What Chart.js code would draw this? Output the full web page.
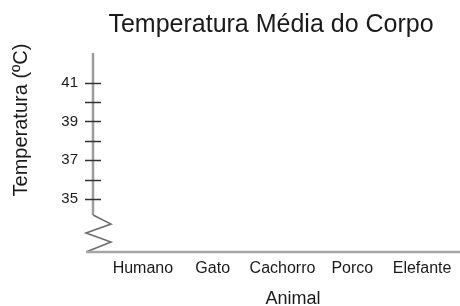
<!DOCTYPE html>
<html>
<head>
<meta charset="utf-8">
<script src="https://cdn.jsdelivr.net/npm/chart.js@4/dist/chart.umd.min.js"></script>
<style>
  html, body { margin: 0; padding: 0; background: #fff; }
  #wrap { width: 460px; height: 306px; }
</style>
</head>
<body>
<div id="wrap"><canvas id="tempChart" width="460" height="306"></canvas></div>
<script>
const titulo = "Temperatura Média do Corpo";
const tituloY = "Temperatura (ºC)";
const tituloX = "Animal";
const animais = ["Humano", "Gato", "Cachorro", "Porco", "Elefante"];
const temperaturas = [null, null, null, null, null]; // no bars drawn in the reference
const yTicks = [35, 36, 37, 38, 39, 40, 41];
const yTickLabels = [35, 37, 39, 41];

const FONT = "'Liberation Sans', Arial, sans-serif";

// axis lines, tick marks, zigzag break and the titles
const decorPlugin = {
  id: "decor",
  afterDraw(chart) {
    const { ctx, chartArea, scales } = chart;
    const y = scales.y;
    const axisX = chartArea.left - 15;
    const breakTop = y.getPixelForValue(35) + 16;
    const bottom = chartArea.bottom;

    ctx.save();
    // y axis line
    ctx.strokeStyle = "#9c9c9c";
    ctx.lineWidth = 2.5;
    ctx.beginPath();
    ctx.moveTo(axisX, chartArea.top);
    ctx.lineTo(axisX, breakTop);
    ctx.stroke();

    // zigzag
    ctx.strokeStyle = "#6e6e6e";
    ctx.lineWidth = 1.6;
    ctx.beginPath();
    ctx.moveTo(axisX, breakTop);
    ctx.lineTo(axisX + 18, breakTop + 9);
    ctx.lineTo(axisX - 7, breakTop + 18);
    ctx.lineTo(axisX + 18, breakTop + 27);
    ctx.lineTo(axisX - 7, bottom);
    ctx.stroke();

    // x axis line
    ctx.strokeStyle = "#a6a6a6";
    ctx.lineWidth = 2.5;
    ctx.beginPath();
    ctx.moveTo(axisX - 7, bottom);
    ctx.lineTo(chart.width, bottom);
    ctx.stroke();

    // tick marks across the y axis
    ctx.strokeStyle = "#333";
    ctx.lineWidth = 1.5;
    yTicks.forEach((v) => {
      const py = Math.round(y.getPixelForValue(v)) + 0.5;
      ctx.beginPath();
      ctx.moveTo(axisX - 8, py);
      ctx.lineTo(axisX + 8, py);
      ctx.stroke();
    });

    // titles
    ctx.fillStyle = "#1a1a1a";
    ctx.textBaseline = "alphabetic";
    ctx.textAlign = "center";
    ctx.font = "25px " + FONT;
    ctx.fillText(titulo, 271, 32);

    ctx.font = "18px " + FONT;
    ctx.fillText(tituloX, 293, 304);

    ctx.translate(27, 120);
    ctx.rotate(-Math.PI / 2);
    ctx.font = "20px " + FONT;
    ctx.fillText(tituloY, 0, 0);
    ctx.restore();
  },
};

new Chart(document.getElementById("tempChart"), {
  type: "bar",
  data: {
    labels: animais,
    datasets: [{ label: tituloY, data: temperaturas, backgroundColor: "#4472c4" }],
  },
  options: {
    responsive: false,
    animation: false,
    layout: { padding: { top: 53, right: 3, left: 0, bottom: 0 } },
    plugins: { legend: { display: false }, tooltip: { enabled: false }, title: { display: false } },
    scales: {
      x: {
        offset: true,
        border: { display: false },
        grid: { display: false, drawTicks: false },
        ticks: { color: "#1a1a1a", font: { family: FONT, size: 16 }, padding: 7, maxRotation: 0, autoSkip: false },
        afterFit: (s) => { s.height = 54; },
      },
      y: {
        min: 32.27,
        max: 42.53,
        border: { display: false },
        grid: { display: false, drawTicks: false },
        ticks: {
          color: "#1a1a1a",
          font: { family: FONT, size: 15 },
          padding: 30,
          callback: (v) => (yTickLabels.includes(v) ? String(v) : ""),
        },
        afterBuildTicks: (s) => { s.ticks = yTicks.map((v) => ({ value: v })); },
        afterFit: (s) => { s.width = 108; },
      },
    },
  },
  plugins: [decorPlugin],
});
</script>
</body>
</html>
